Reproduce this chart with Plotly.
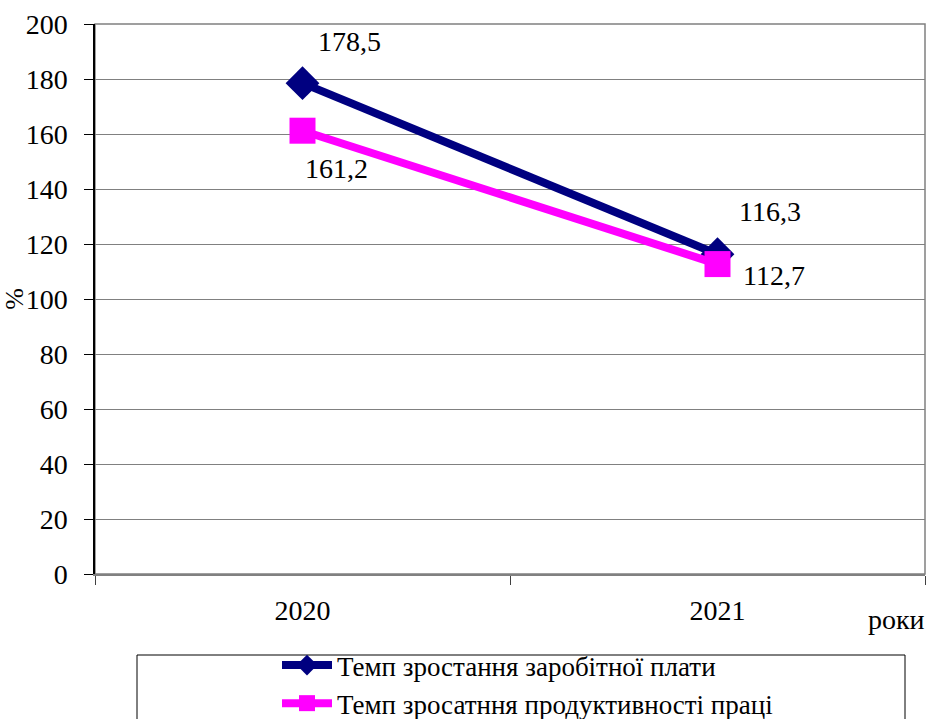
import plotly.graph_objects as go

years = ["2020", "2021"]
wage_growth = [178.5, 116.3]
productivity_growth = [161.2, 112.7]
wage_name = "Темп зростання заробітної плати"
prod_name = "Темп зросатння продуктивності праці"
y_ticks = list(range(0, 201, 20))

FONT = "Liberation Serif"
FS = 28

fig = go.Figure()
fig.add_trace(go.Scatter(
    x=years, y=wage_growth, name=wage_name, mode="lines+markers",
    line=dict(color="#000080", width=8),
    marker=dict(symbol="diamond", size=26, color="#000080"),
))
fig.add_trace(go.Scatter(
    x=years, y=productivity_growth, name=prod_name, mode="lines+markers",
    line=dict(color="#FF00FF", width=8),
    marker=dict(symbol="square", size=26, color="#FF00FF"),
))

# value labels next to each point (x given as category index)
label_offsets = {
    0: [(47, 42), (34, -38)],
    1: [(52, 43), (56, -11)],
}
for i in range(len(years)):
    for s, vals in enumerate([wage_growth, productivity_growth]):
        dx, dy = label_offsets[i][s]
        fig.add_annotation(
            x=i, y=vals[i], text=f"{vals[i]:.1f}".replace(".", ","),
            showarrow=False, xshift=dx, yshift=dy,
            font=dict(family=FONT, size=FS, color="black"),
        )

# x axis caption
fig.add_annotation(
    xref="paper", yref="paper", x=1.003, y=-0.082, xanchor="right", yanchor="middle",
    text="роки", showarrow=False, font=dict(family=FONT, size=FS, color="black"),
)

# plot border and legend frame
fig.add_shape(type="rect", xref="paper", yref="paper", x0=0, x1=1, y0=0, y1=1,
              line=dict(color="#808080", width=1.5), layer="below")
fig.add_shape(type="rect", xref="paper", yref="paper",
              x0=(137 - 95) / 830, x1=(905 - 95) / 830,
              y0=(574 - 740) / 550, y1=(574 - 655) / 550,
              line=dict(color="black", width=1))

fig.update_layout(
    width=929, height=719,
    margin=dict(l=95, r=4, t=24, b=145, autoexpand=False),
    plot_bgcolor="white", paper_bgcolor="white",
    font=dict(family=FONT, size=FS, color="black"),
    showlegend=True,
    legend=dict(
        x=(277 - 95) / 830, y=(574 - 641) / 550, xanchor="left", yanchor="top",
        font=dict(family=FONT, size=27, color="black"),
        bgcolor="rgba(0,0,0,0)", tracegroupgap=0, itemwidth=50,
    ),
    xaxis=dict(
        type="category", range=[-0.5, 1.5], tickson="boundaries",
        ticks="outside", ticklen=9, tickcolor="#404040",
        showline=True, linecolor="#808080", linewidth=2,
        showgrid=False, ticklabelstandoff=10,
        tickfont=dict(family=FONT, size=FS),
    ),
    yaxis=dict(
        range=[0, 200], tickvals=y_ticks, ticks="outside", ticklen=9,
        tickcolor="black", showline=True, linecolor="black", linewidth=1.5,
        showgrid=True, gridcolor="#808080", gridwidth=1.2, zeroline=False,
        ticklabelstandoff=11, tickfont=dict(family=FONT, size=FS),
        title=dict(text="%", font=dict(family=FONT, size=26), standoff=0),
    ),
)

fig.write_html("out.html")
